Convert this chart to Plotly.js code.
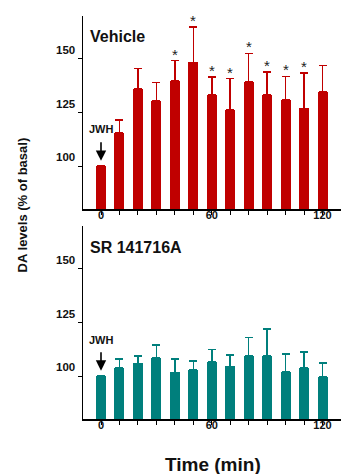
<!DOCTYPE html>
<html>
<head>
<meta charset="utf-8">
<script src="https://cdn.plot.ly/plotly-3.0.1.min.js"></script>
<style>html,body{margin:0;padding:0;background:#fff;}#chart{width:341px;height:474px;}</style>
</head>
<body>
<div id="chart"></div>
<script>
// Time points (min)
const times = [0, 10, 20, 30, 40, 50, 60, 70, 80, 90, 100, 110, 120];
// Vehicle group: DA levels (% of basal) and SEM
const vehicleMean = [100, 115.5, 136.2, 130.6, 139.9, 148.4, 133.1, 126.4, 139.4, 133.1, 130.9, 126.9, 134.6];
const vehicleErr  = [0, 6.1, 9.3, 8.5, 9.3, 16.5, 8.4, 14.4, 13.2, 10.7, 11.0, 16.6, 12.3];
const vehicleSig  = [false, false, false, false, true, true, true, true, true, true, true, true, false];
// SR 141716A group
const srMean = [100, 104.0, 105.9, 108.5, 101.7, 102.8, 106.7, 104.5, 109.5, 109.3, 101.9, 104.0, 99.8];
const srErr  = [0, 3.9, 3.4, 5.9, 6.2, 4.2, 5.7, 5.3, 8.4, 12.7, 8.3, 7.2, 6.2];
// Axis labels
const xMinorTickVals = [0, 10, 20, 30, 40, 50, 60, 70, 80, 90, 100, 110, 120];
const xTickVals = [0, 60, 120];
const xTickText = ['0', '60', '120'];
const yTickVals = [100, 125, 150];
const panelTitles = ['Vehicle', 'SR 141716A'];
const injectionLabel = 'JWH';

const RED = '#c00000';
const TEAL = '#007f7c';
const FONT = 'Arial, "Liberation Sans", sans-serif';

function barTrace(y, err, color, xa, ya) {
  return {
    type: 'bar', x: times, y: y, width: 5.4,
    xaxis: xa, yaxis: ya,
    marker: {color: color, line: {width: 0}},
    error_y: {type: 'data', symmetric: false, array: err, arrayminus: err.map(() => 0),
              color: color, thickness: 1.5, width: 4},
    hoverinfo: 'skip'
  };
}

const data = [
  barTrace(vehicleMean, vehicleErr, RED, 'x', 'y'),
  barTrace(srMean, srErr, TEAL, 'x2', 'y2')
];

const xCommon = {
  range: [-9.75, 130], tickmode: 'array', tickvals: xTickVals, ticktext: xTickText,
  ticks: '', ticklabelstandoff: -5,
  minor: {tickmode: 'array', tickvals: xMinorTickVals, ticks: 'outside', ticklen: 4, tickwidth: 1, tickcolor: '#000'},
  showline: true, linecolor: '#000', linewidth: 1.5, showgrid: false, zeroline: false,
  tickfont: {family: FONT, size: 11, color: '#111', weight: 'bold'}, fixedrange: true
};
const yCommon = {
  range: [80, 170], tickmode: 'array', tickvals: yTickVals,
  ticks: 'outside', ticklen: 4, tickwidth: 1, tickcolor: '#000', ticklabelshift: -9,
  showline: true, linecolor: '#000', linewidth: 1.5, showgrid: false, zeroline: false,
  tickfont: {family: FONT, size: 11.5, color: '#111', weight: 'bold'}, fixedrange: true
};

const annotations = [];
// panel titles
annotations.push({xref: 'paper', yref: 'paper', x: 0.02, y: 0.948, xanchor: 'left', yanchor: 'middle',
  text: '<b>' + panelTitles[0] + '</b>', showarrow: false, font: {family: FONT, size: 16, color: '#111'}});
annotations.push({xref: 'paper', yref: 'paper', x: 0.02, y: 0.425, xanchor: 'left', yanchor: 'middle',
  text: '<b>' + panelTitles[1] + '</b>', showarrow: false, font: {family: FONT, size: 16, color: '#111'}});
// JWH labels & arrows
[['x', 'y', 117.1], ['x2', 'y2', 116.8]].forEach(([xa, ya, ly]) => {
  annotations.push({xref: xa, yref: ya, x: times[0], y: ly, text: '<b>' + injectionLabel + '</b>',
    showarrow: false, xanchor: 'center', yanchor: 'middle', font: {family: FONT, size: 11, color: '#111'}});
  annotations.push({xref: xa, yref: ya, x: times[0], y: 102.5, text: '', showarrow: true,
    ax: 0, ay: -20, arrowhead: 2, arrowsize: 1.3, arrowwidth: 1.6, arrowcolor: '#000'});
});
// significance asterisks
times.forEach((t, i) => {
  if (vehicleSig[i]) {
    annotations.push({xref: 'x', yref: 'y', x: t, y: vehicleMean[i] + vehicleErr[i], text: '*',
      showarrow: false, xanchor: 'center', yanchor: 'bottom', yshift: -4,
      font: {family: FONT, size: 15, color: '#222'}});
  }
});
// axis titles
annotations.push({xref: 'paper', yref: 'paper', x: -0.235, y: 0.531, textangle: -90,
  text: '<b>DA levels (% of basal)</b>', showarrow: false, xanchor: 'center', yanchor: 'middle',
  font: {family: FONT, size: 13, color: '#111'}});
annotations.push({xref: 'paper', yref: 'paper', x: 0.504, y: -0.114,
  text: '<b>Time (min)</b>', showarrow: false, xanchor: 'center', yanchor: 'middle',
  font: {family: FONT, size: 19, color: '#111'}});

const layout = {
  width: 341, height: 474,
  margin: {l: 83, r: 0, t: 16, b: 55, pad: 0},
  paper_bgcolor: '#fff', plot_bgcolor: '#fff',
  showlegend: false, bargap: 0,
  xaxis: Object.assign({}, xCommon, {anchor: 'y', domain: [0, 1]}),
  yaxis: Object.assign({}, yCommon, {anchor: 'x', domain: [0.521, 1]}),
  xaxis2: Object.assign({}, xCommon, {anchor: 'y2', domain: [0, 1]}),
  yaxis2: Object.assign({}, yCommon, {anchor: 'x2', domain: [0, 0.479]}),
  annotations: annotations
};

Plotly.newPlot('chart', data, layout, {displayModeBar: false, staticPlot: true});
</script>
</body>
</html>
